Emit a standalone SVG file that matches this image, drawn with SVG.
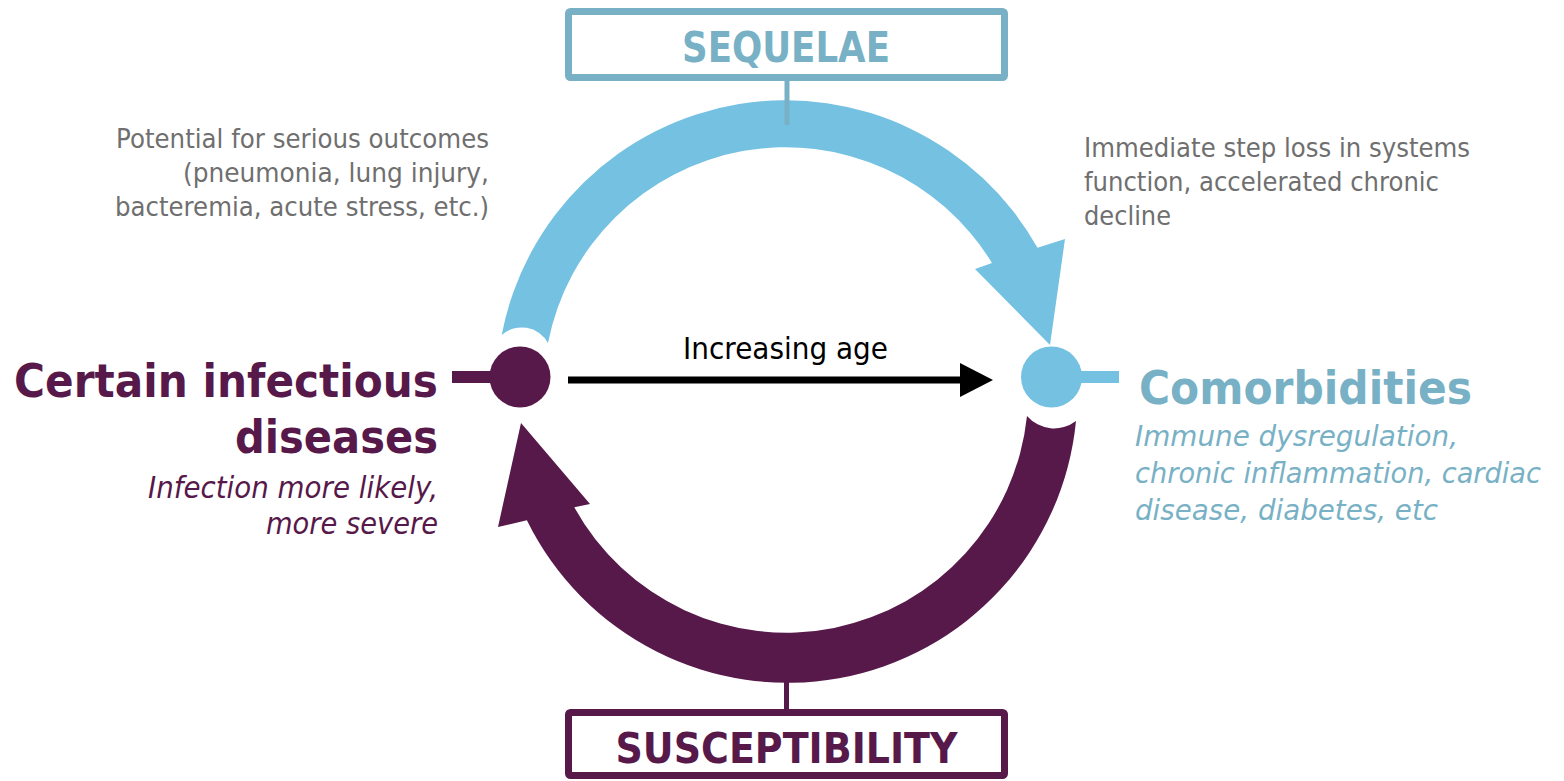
<svg xmlns="http://www.w3.org/2000/svg" width="1564" height="781" viewBox="0 0 1564 781">
<defs>
<style>
.grey{font-family:"DejaVu Sans","Liberation Sans",sans-serif;font-size:27px;fill:#6f6f6f}
.big{font-family:"DejaVu Sans","Liberation Sans",sans-serif;font-weight:bold;font-size:46px}
.ital{font-family:"DejaVu Sans","Liberation Sans",sans-serif;font-style:italic;font-size:30px}
.ital2{font-family:"DejaVu Sans","Liberation Sans",sans-serif;font-style:italic;font-size:28.5px}
.box{fill:#ffffff;stroke-width:7}
.boxt{font-family:"DejaVu Sans","Liberation Sans",sans-serif;font-weight:bold;font-size:42px}
.purple{fill:#57184a}
.teal{fill:#78b1c5}
.blue{fill:#74c1e2}
</style>
<marker id="ah" markerUnits="userSpaceOnUse" markerWidth="34" markerHeight="34" viewBox="0 0 34 34" refX="1" refY="17" orient="auto">
<path d="M0,0 L33,17 L0,34 Z" fill="#000000"/>
</marker>
</defs>
<rect width="1564" height="781" fill="#ffffff"/>

<g id="connectors">
<path id="arc-sequelae" class="blue" d="M 501.7 335 A 289 289 0 0 1 1037.5 247.7 L 1065 239 L 1050 345 L 975 269 L 992 263 A 242 242 0 0 0 548 343 A 30 30 0 0 0 501.7 335 Z"/>
<path id="arc-susceptibility" class="purple" d="M 1076 421 A 290 290 0 0 1 526.9 520.3 L 498 527 L 521 423 L 590 504 L 574.3 507.3 A 242 242 0 0 0 1027 416 A 36 36 0 0 0 1076 421 Z"/>
<line id="age-arrow" x1="568" y1="380" x2="961" y2="380" stroke="#000000" stroke-width="7" marker-end="url(#ah)"/>
<line x1="787" y1="80" x2="787" y2="125" stroke="#78b1c5" stroke-width="5"/>
<line x1="786.5" y1="682" x2="786.5" y2="710" stroke="#57184a" stroke-width="5"/>
</g>

<g id="node-sequelae">
<rect class="box" x="568.5" y="11.5" width="436" height="66" rx="2" stroke="#78b1c5"/>
<text class="boxt teal" x="786" y="62" text-anchor="middle" textLength="208" lengthAdjust="spacingAndGlyphs">SEQUELAE</text>
</g>

<g id="node-susceptibility">
<rect class="box" x="568.5" y="712.5" width="436" height="63" rx="2" stroke="#57184a"/>
<text class="boxt purple" x="786.5" y="763" text-anchor="middle" textLength="342" lengthAdjust="spacingAndGlyphs">SUSCEPTIBILITY</text>
</g>

<g id="node-infectious">
<rect class="purple" x="452" y="371" width="52" height="12"/>
<circle class="purple" cx="520" cy="377" r="30.5"/>
<text class="big purple" x="438" y="397" text-anchor="end" textLength="424" lengthAdjust="spacingAndGlyphs">Certain infectious</text>
<text class="big purple" x="438" y="453" text-anchor="end" textLength="203" lengthAdjust="spacingAndGlyphs">diseases</text>
<text class="ital purple" x="438" y="498" text-anchor="end" textLength="290" lengthAdjust="spacingAndGlyphs">Infection more likely,</text>
<text class="ital purple" x="438" y="534" text-anchor="end" textLength="172" lengthAdjust="spacingAndGlyphs">more severe</text>
</g>

<g id="node-comorbidities">
<rect class="blue" x="1066" y="371" width="53" height="12"/>
<circle class="blue" cx="1051.5" cy="377" r="30.5"/>
<text class="big teal" x="1139" y="404" textLength="333" lengthAdjust="spacingAndGlyphs">Comorbidities</text>
<text class="ital2 teal" x="1135" y="446" textLength="323" lengthAdjust="spacingAndGlyphs">Immune dysregulation,</text>
<text class="ital2 teal" x="1135" y="483" textLength="406" lengthAdjust="spacingAndGlyphs">chronic inflammation, cardiac</text>
<text class="ital2 teal" x="1135" y="520" textLength="303" lengthAdjust="spacingAndGlyphs">disease, diabetes, etc</text>
</g>

<g id="label-outcomes">
<text class="grey" x="489" y="148" text-anchor="end" textLength="373" lengthAdjust="spacingAndGlyphs">Potential for serious outcomes</text>
<text class="grey" x="489" y="182" text-anchor="end" textLength="306" lengthAdjust="spacingAndGlyphs">(pneumonia, lung injury,</text>
<text class="grey" x="489" y="216" text-anchor="end" textLength="374" lengthAdjust="spacingAndGlyphs">bacteremia, acute stress, etc.)</text>
</g>

<g id="label-step-loss">
<text class="grey" x="1084" y="157" textLength="386" lengthAdjust="spacingAndGlyphs">Immediate step loss in systems</text>
<text class="grey" x="1084" y="191" textLength="355" lengthAdjust="spacingAndGlyphs">function, accelerated chronic</text>
<text class="grey" x="1084" y="225" textLength="87" lengthAdjust="spacingAndGlyphs">decline</text>
</g>

<g id="label-age">
<text x="785.5" y="359" text-anchor="middle" font-family="DejaVu Sans, Liberation Sans, sans-serif" font-size="30" fill="#000000" textLength="205" lengthAdjust="spacingAndGlyphs">Increasing age</text>
</g>
</svg>
